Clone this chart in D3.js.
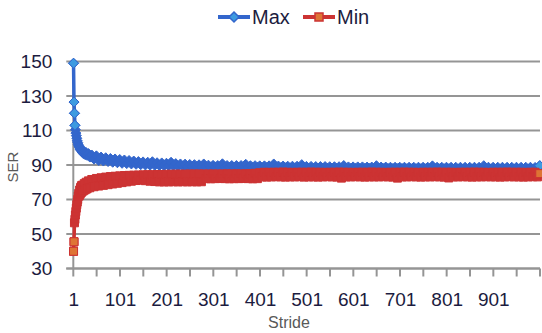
<!DOCTYPE html>
<html>
<head>
<meta charset="utf-8">
<script src="https://cdn.jsdelivr.net/npm/d3@7"></script>
<style>
  body { margin: 0; background: #fff; }
  text { font-family: "Liberation Sans", Arial, sans-serif; }
</style>
</head>
<body>
<div id="chart"></div>
<script>
// category axis: strides 1..1000, labelled every 100
const categories = d3.range(1, 1001);
const xTickLabels = [1, 101, 201, 301, 401, 501, 601, 701, 801, 901];
const yTicks = [30, 50, 70, 90, 110, 130, 150];

const strides = [1, 2, 3, 4, 5, 6, 7, 8, 9, 10, 11, 12, 13, 14, 15, 16, 17, 18, 19, 20,
  22, 24, 26, 28, 30, 33, 36, 40, 45, 50,
  55, 60, 65, 70, 75, 80, 85, 90, 95, 100,
  105, 110, 115, 120, 125, 130, 135, 140, 145, 150,
  155, 160, 165, 170, 175, 180, 185, 190, 195, 200,
  205, 210, 215, 220, 225, 230, 235, 240, 245, 250,
  255, 260, 265, 270, 275, 280, 285, 290, 295, 300,
  305, 310, 315, 320, 325, 330, 335, 340, 345, 350,
  355, 360, 365, 370, 375, 380, 385, 390, 395, 400,
  405, 410, 415, 420, 425, 430, 435, 440, 445, 450,
  455, 460, 465, 470, 475, 480, 485, 490, 495, 500,
  505, 510, 515, 520, 525, 530, 535, 540, 545, 550,
  555, 560, 565, 570, 575, 580, 585, 590, 595, 600,
  605, 610, 615, 620, 625, 630, 635, 640, 645, 650,
  655, 660, 665, 670, 675, 680, 685, 690, 695, 700,
  705, 710, 715, 720, 725, 730, 735, 740, 745, 750,
  755, 760, 765, 770, 775, 780, 785, 790, 795, 800,
  805, 810, 815, 820, 825, 830, 835, 840, 845, 850,
  855, 860, 865, 870, 875, 880, 885, 890, 895, 900,
  905, 910, 915, 920, 925, 930, 935, 940, 945, 950,
  955, 960, 965, 970, 975, 980, 985, 990, 995, 1000];

const maxValues = [149, 126.5, 120, 113, 110.5, 108.5, 107, 105.5, 104, 103,
  102, 101.2, 100.6, 100, 99.2, 99.6, 98.4, 99, 97.6, 98.4,
  96.6, 97.8, 96, 97.2, 95.6, 96.6, 94.6, 95.8, 93.4, 95.3,
  92.6, 94.6, 92.3, 94.2, 92.0, 93.8, 91.6, 93.5, 91.3, 93.2,
  91.0, 92.9, 90.8, 92.6, 90.6, 92.3, 90.4, 92.0, 90.2, 91.8,
  90.0, 91.6, 89.9, 91.9, 89.8, 91.3, 89.7, 91.2, 89.6, 91.0,
  89.5, 91.6, 89.4, 90.8, 89.3, 90.6, 89.3, 90.5, 89.2, 90.3,
  89.1, 90.2, 89.1, 90.1, 89.0, 90.6, 89.0, 89.9, 88.9, 89.8,
  88.9, 89.7, 88.8, 90.7, 88.8, 89.7, 88.8, 89.7, 88.7, 89.7,
  88.7, 89.7, 88.7, 90.4, 88.6, 89.6, 88.6, 89.6, 88.6, 89.5,
  88.5, 89.5, 88.5, 89.5, 88.5, 90.6, 88.4, 89.4, 88.4, 89.4,
  88.4, 89.3, 88.3, 89.3, 88.3, 89.3, 88.3, 90.2, 88.3, 89.2,
  88.2, 89.2, 88.2, 89.1, 88.2, 89.1, 88.2, 89.1, 88.1, 89.0,
  88.1, 89.0, 88.1, 89.0, 88.1, 89.7, 88.1, 88.9, 88.0, 88.9,
  88.0, 88.9, 88.0, 88.9, 88.0, 88.8, 88.0, 88.8, 87.9, 89.6,
  87.9, 88.8, 87.9, 88.8, 87.9, 88.7, 87.9, 88.7, 87.9, 88.7,
  87.9, 88.7, 87.8, 88.7, 87.8, 88.7, 87.8, 88.7, 87.8, 88.7,
  87.8, 88.7, 87.8, 89.5, 87.8, 88.7, 87.8, 88.7, 87.8, 88.7,
  87.8, 88.7, 87.7, 88.7, 87.7, 88.7, 87.7, 88.7, 87.7, 88.7,
  87.7, 88.7, 87.7, 88.7, 87.7, 89.6, 87.7, 88.7, 87.7, 88.7,
  87.7, 88.7, 87.7, 88.7, 87.6, 88.7, 87.6, 88.7, 87.6, 88.7,
  87.6, 88.7, 87.6, 88.7, 87.6, 88.7, 87.6, 88.6, 87.6, 89.6];

const minValues = [40, 45.5, 56.5, 58.5, 61, 63, 65, 67, 68.5, 70,
  72, 73.5, 72, 75.5, 73, 77, 73.8, 78, 74.4, 78.3,
  75, 79.2, 75.6, 80, 76.2, 80.8, 76.8, 81.6, 77.4, 82.2,
  77.8, 82.6, 78.2, 83.0, 78.6, 83.3, 79.0, 83.5, 79.4, 83.7,
  79.8, 83.9, 80.2, 84.0, 80.6, 84.1, 81.0, 84.2, 81.2, 84.3,
  80.9, 84.4, 80.6, 84.4, 80.4, 84.5, 80.2, 84.5, 80.2, 84.6,
  80.2, 84.6, 80.3, 84.7, 80.2, 84.7, 80.3, 84.7, 80.2, 84.8,
  80.3, 84.8, 80.2, 84.8, 80.3, 84.8, 82.1, 84.8, 82.0, 84.8,
  82.1, 84.8, 82.2, 84.8, 82.1, 84.9, 82.0, 84.8, 82.1, 84.9,
  82.1, 84.8, 82.2, 84.9, 82.1, 85.0, 82.0, 85.2, 82.1, 85.5,
  83.1, 85.8, 83.0, 85.7, 83.1, 85.8, 83.2, 85.8, 83.1, 85.9,
  83.0, 85.8, 83.1, 85.7, 83.1, 85.8, 83.2, 85.8, 83.0, 85.8,
  83.1, 85.9, 83.1, 85.8, 83.0, 85.8, 83.1, 85.7, 83.2, 85.8,
  83.1, 85.8, 83.0, 85.9, 82.4, 85.8, 83.1, 85.8, 83.1, 85.7,
  83.2, 85.8, 83.1, 85.8, 83.0, 85.8, 83.1, 85.9, 83.1, 85.8,
  83.1, 85.8, 83.2, 85.7, 83.1, 85.8, 83.0, 85.8, 82.4, 85.8,
  83.1, 85.9, 83.1, 85.8, 83.2, 85.8, 83.1, 85.7, 83.0, 85.8,
  83.1, 85.8, 83.1, 85.8, 83.2, 85.9, 83.1, 85.8, 83.0, 85.8,
  82.5, 85.8, 83.1, 85.7, 83.1, 85.8, 83.2, 85.8, 83.1, 85.8,
  83.0, 85.9, 83.1, 85.8, 83.1, 85.8, 83.2, 85.7, 83.1, 85.8,
  83.1, 85.8, 83.0, 85.8, 83.1, 85.9, 83.2, 85.8, 83.1, 85.8,
  83.1, 85.8, 83.0, 85.7, 83.1, 85.8, 83.2, 85.8, 83.1, 85.0];

const width = 542, height = 333;
const plot = { left: 73.3, right: 540, top: 61.5, bottom: 268.5 };
const textColor = '#1c1c40';
const gridColor = '#959595';

const svg = d3.select('#chart').append('svg')
  .attr('width', width)
  .attr('height', height);

const x = d3.scaleBand().domain(categories).range([plot.left, plot.right]).padding(0);
const y = d3.scaleLinear().domain([30, 150]).range([plot.bottom, plot.top]);
const cx = s => x(s) + x.bandwidth() / 2;

// horizontal gridlines (also act as y tick marks)
svg.append('g').selectAll('line')
  .data(yTicks)
  .join('line')
  .attr('x1', plot.left - 7).attr('x2', plot.right)
  .attr('y1', d => y(d)).attr('y2', d => y(d))
  .attr('stroke', gridColor).attr('stroke-width', 2);

// y axis line
svg.append('line')
  .attr('x1', plot.left).attr('x2', plot.left)
  .attr('y1', plot.top).attr('y2', plot.bottom)
  .attr('stroke', gridColor).attr('stroke-width', 2);

// x tick marks every 50 categories, on category boundaries
const tickCats = d3.range(1, 1001, 50);
svg.append('g').selectAll('line')
  .data(tickCats)
  .join('line')
  .attr('x1', d => x(d)).attr('x2', d => x(d))
  .attr('y1', plot.bottom).attr('y2', plot.bottom + 8)
  .attr('stroke', gridColor).attr('stroke-width', 2);
svg.append('line')
  .attr('x1', plot.right).attr('x2', plot.right)
  .attr('y1', plot.bottom).attr('y2', plot.bottom + 8)
  .attr('stroke', gridColor).attr('stroke-width', 2);

// y labels
const yAxis = svg.append('g')
  .attr('transform', `translate(${plot.left - 21},0)`)
  .call(d3.axisLeft(y).tickValues(yTicks).tickSize(0).tickPadding(0));
yAxis.select('.domain').remove();
yAxis.selectAll('text')
  .attr('fill', textColor)
  .style('font-size', '19px')
  .style('font-family', '"Liberation Sans", Arial, sans-serif');

// x labels
const xAxis = svg.append('g')
  .attr('transform', `translate(0,${plot.bottom + 24})`)
  .call(d3.axisBottom(x).tickValues(xTickLabels).tickSize(0).tickPadding(0));
xAxis.select('.domain').remove();
xAxis.selectAll('text')
  .attr('fill', textColor)
  .style('font-size', '19px')
  .style('font-family', '"Liberation Sans", Arial, sans-serif');

// x axis line drawn over the ticks
svg.append('line')
  .attr('x1', plot.left - 7).attr('x2', plot.right)
  .attr('y1', plot.bottom).attr('y2', plot.bottom)
  .attr('stroke', gridColor).attr('stroke-width', 2);

// axis titles
svg.append('text')
  .attr('x', 289).attr('y', 328)
  .attr('text-anchor', 'middle')
  .attr('fill', '#595959')
  .style('font-size', '16px')
  .text('Stride');
svg.append('text')
  .attr('transform', 'translate(18,167) rotate(-90)')
  .attr('text-anchor', 'middle')
  .attr('fill', '#595959')
  .style('font-size', '15px')
  .text('SER');

const diamond = r => `M0,${-r}L${r},0L0,${r}L${-r},0Z`;
const square = r => `M${-r},${-r}H${r}V${r}H${-r}Z`;

// the marker fill only shows where points stand apart (first few, last one)
const series = [
  { name: 'Max', values: maxValues, line: '#3366cc', fill: '#3d9ae0', shape: diamond(5), openFirst: 4 },
  { name: 'Min', values: minValues, line: '#cc3333', fill: '#de7434', shape: square(4), openFirst: 2 }
];

const lineGen = d3.line()
  .x(d => cx(d.s))
  .y(d => y(d.v));

series.forEach(sr => {
  const pts = strides.map((s, i) => ({ s, v: sr.values[i], i }));
  const isOpen = d => d.i < sr.openFirst || d.i === pts.length - 1;
  const g = svg.append('g');
  g.append('path')
    .datum(pts)
    .attr('d', lineGen)
    .attr('fill', 'none')
    .attr('stroke', sr.line)
    .attr('stroke-width', 3.5)
    .attr('stroke-linejoin', 'round');
  g.selectAll('path.mk')
    .data(pts)
    .join('path')
    .attr('class', 'mk')
    .attr('d', sr.shape)
    .attr('transform', d => `translate(${cx(d.s)},${y(d.v)})`)
    .attr('fill', d => isOpen(d) ? sr.fill : sr.line)
    .attr('stroke', sr.line)
    .attr('stroke-width', 1);
  // redraw the open markers on top so their fill shows
  g.selectAll('path.open')
    .data(pts.filter(isOpen))
    .join('path')
    .attr('class', 'open')
    .attr('d', sr.shape)
    .attr('transform', d => `translate(${cx(d.s)},${y(d.v)})`)
    .attr('fill', sr.fill)
    .attr('stroke', sr.line)
    .attr('stroke-width', 1);
});

// legend
const legend = [
  { name: 'Max', x1: 218, x2: 250, tx: 252, s: series[0] },
  { name: 'Min', x1: 303, x2: 335, tx: 337, s: series[1] }
];
const lg = svg.append('g');
legend.forEach(l => {
  lg.append('line')
    .attr('x1', l.x1).attr('x2', l.x2)
    .attr('y1', 17).attr('y2', 17)
    .attr('stroke', l.s.line).attr('stroke-width', 4);
  lg.append('path')
    .attr('d', l.s.shape)
    .attr('transform', `translate(${(l.x1 + l.x2) / 2},17)`)
    .attr('fill', l.s.fill)
    .attr('stroke', l.s.line)
    .attr('stroke-width', 1.5);
  lg.append('text')
    .attr('x', l.tx).attr('y', 24)
    .attr('fill', textColor)
    .style('font-size', '20px')
    .text(l.name);
});
</script>
</body>
</html>
